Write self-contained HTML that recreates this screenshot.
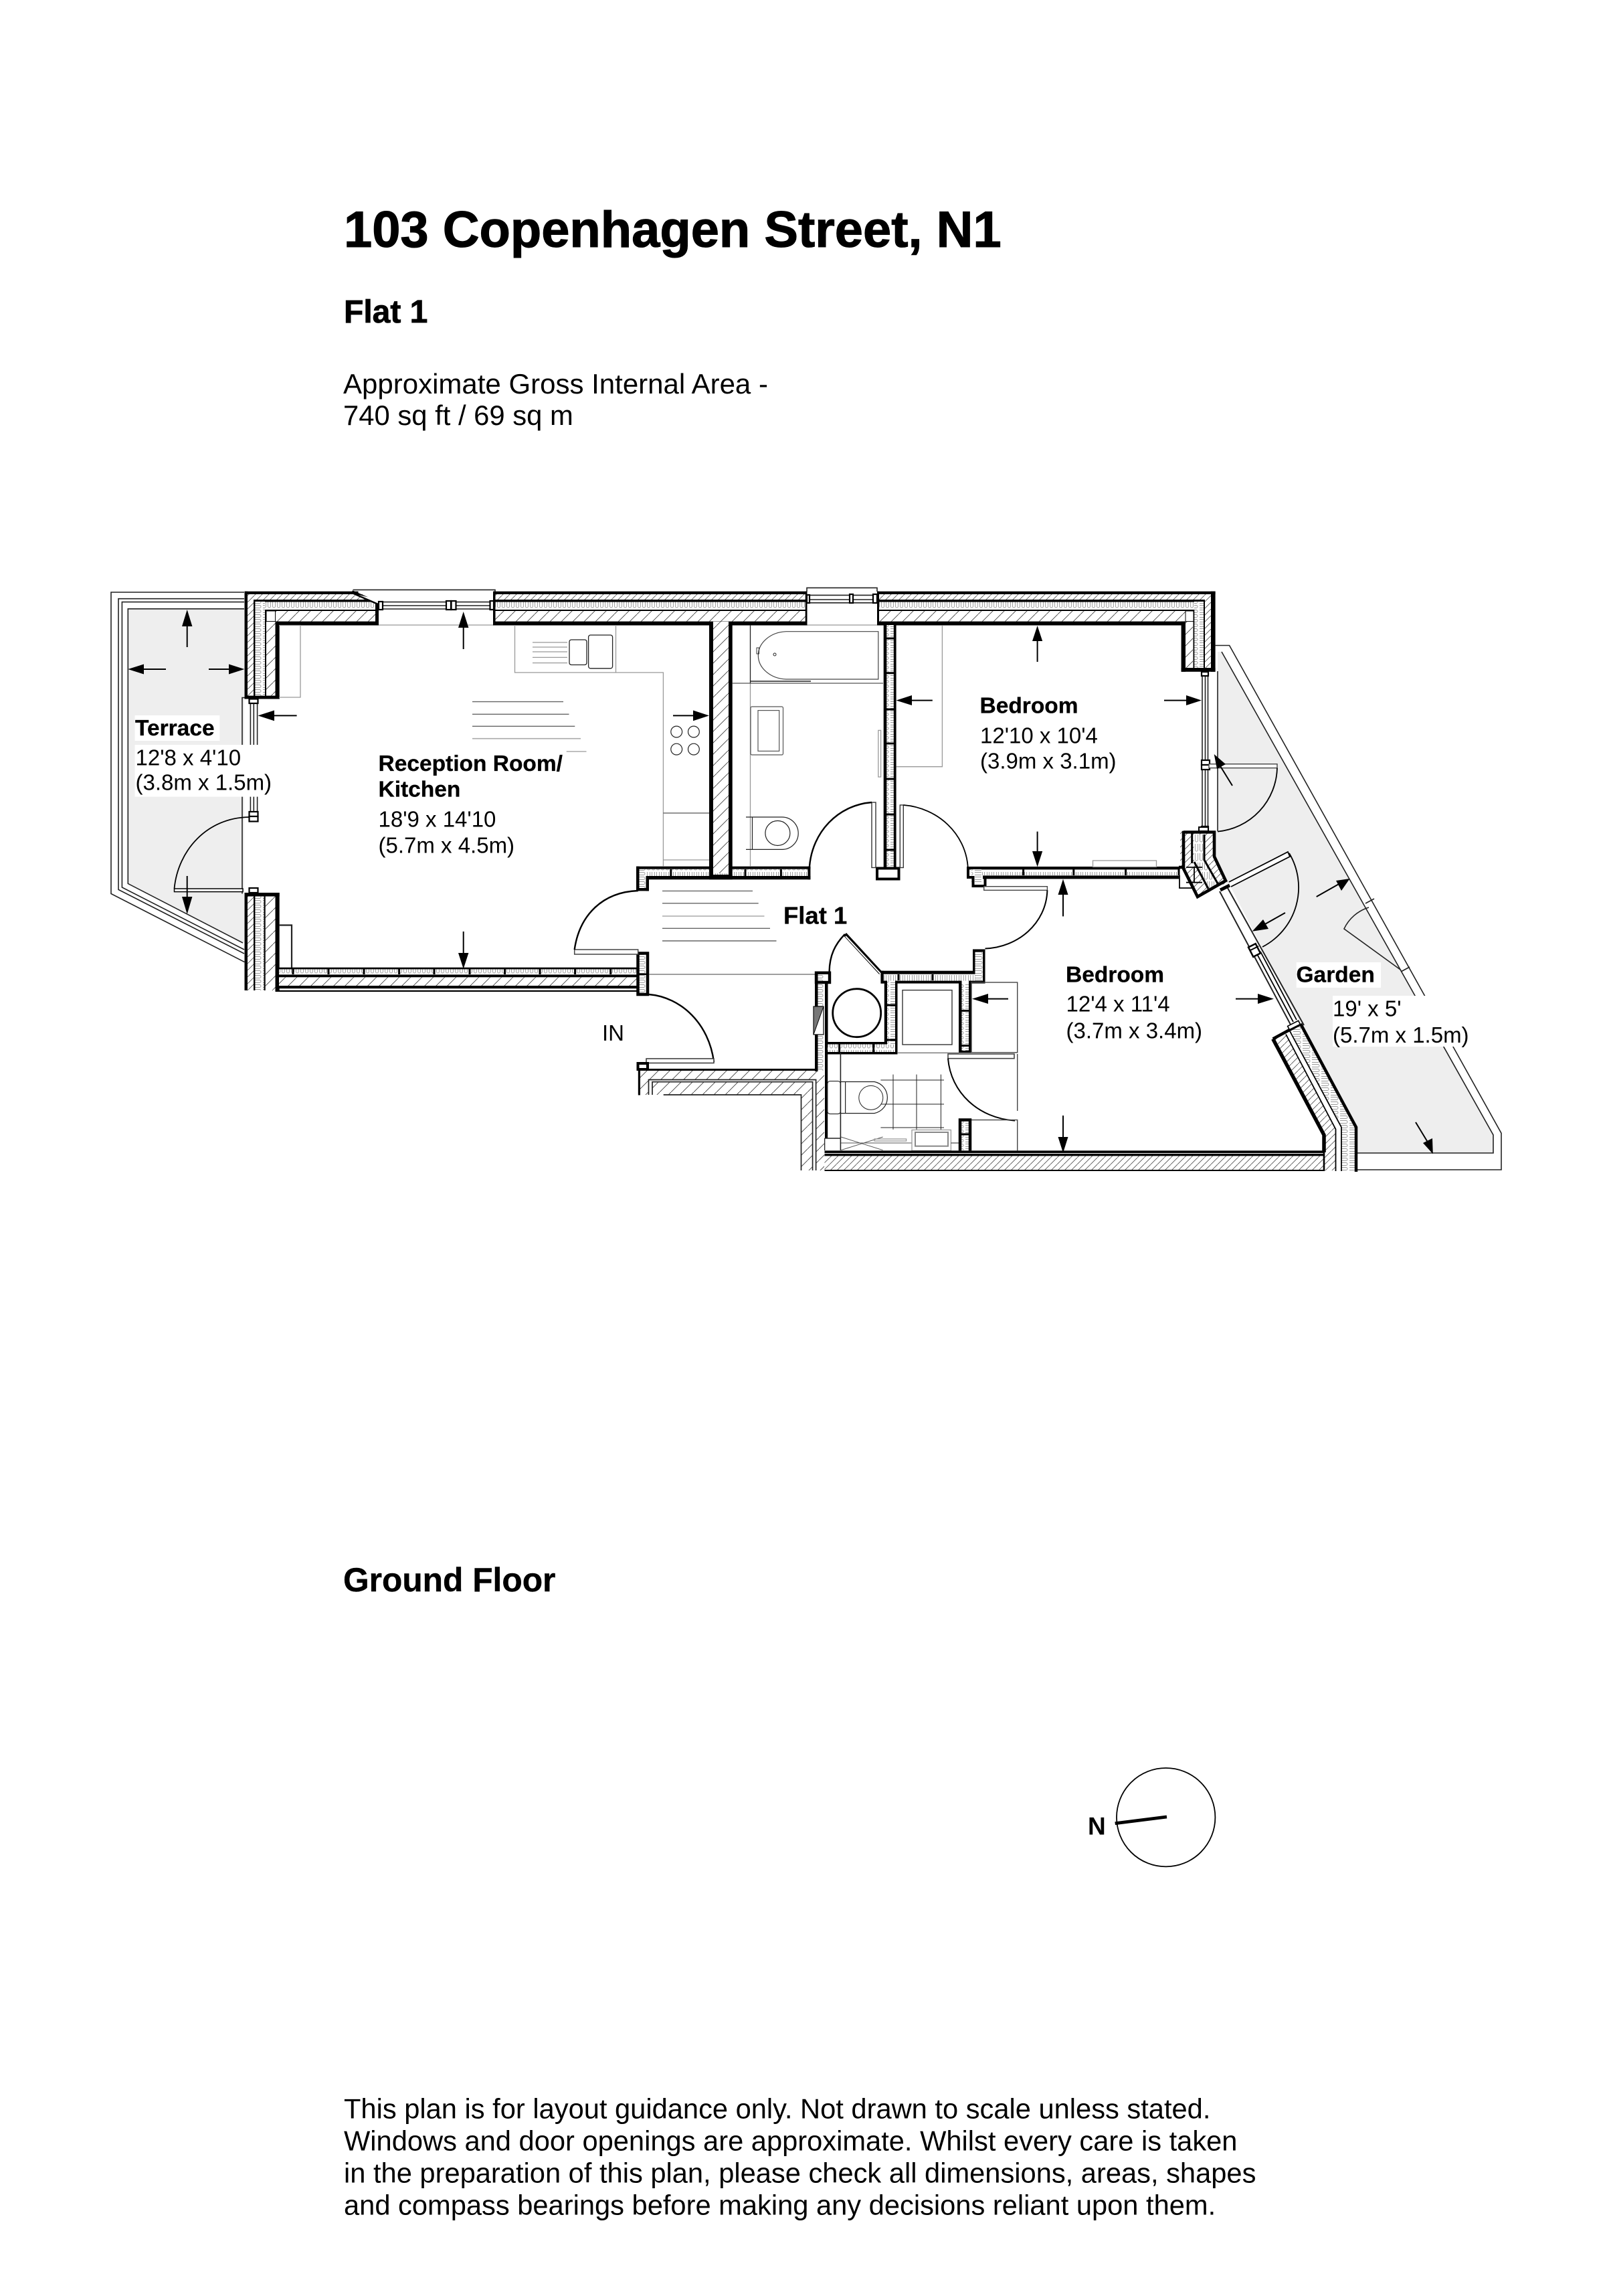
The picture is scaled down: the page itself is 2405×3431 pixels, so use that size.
<!DOCTYPE html>
<html><head><meta charset="utf-8"><title>103 Copenhagen Street, N1</title>
<style>
html,body{margin:0;padding:0;background:#fff}
svg{display:block}
text{font-family:"Liberation Sans",Arial,sans-serif;fill:#000}
.t{font-weight:bold;stroke:#000;stroke-width:1.1}
.b{font-weight:bold;font-size:33.5px;stroke:#000;stroke-width:.3}
.r{font-size:33px}
.k{fill:#000}
.hf{fill:url(#hf)}
.hc{fill:url(#hc)}
.iv{fill:url(#iv)}
.ih{fill:url(#ih)}
.l{fill:none;stroke:#222;stroke-width:1.6}
.g{fill:none;stroke:#999;stroke-width:1.3}
.m{fill:none;stroke:#000;stroke-width:2.4}
.w{fill:#fff;stroke:#000;stroke-width:2.2}
.a{fill:none;stroke:#000;stroke-width:2}
.h{fill:#000}
</style></head><body>
<svg xmlns="http://www.w3.org/2000/svg" width="2405" height="3431" viewBox="0 0 2405 3431">
<defs>
<pattern id="hf" patternUnits="userSpaceOnUse" width="10" height="10"><rect width="10" height="10" fill="#fff"/><path d="M-1 11L11 -1" stroke="#555" stroke-width=".9"/></pattern>
<pattern id="hc" patternUnits="userSpaceOnUse" width="17" height="17"><rect width="17" height="17" fill="#fff"/><path d="M-1 18L18 -1" stroke="#444" stroke-width=".9"/></pattern>
<pattern id="iv" patternUnits="userSpaceOnUse" width="14" height="7"><rect width="14" height="7" fill="#fff"/><path d="M1 1.500H10a2 2 0 0 1 0 4H1" fill="none" stroke="#999" stroke-width=".9"/></pattern>
<pattern id="ih" patternUnits="userSpaceOnUse" width="7" height="14"><rect width="7" height="14" fill="#fff"/><path d="M1.500 1V10a2 2 0 0 0 4 0V1" fill="none" stroke="#999" stroke-width=".9"/></pattern>
</defs>
<rect width="2405" height="3431" fill="#fff"/>

<!-- header -->
<text class="t" x="514" y="369" font-size="75.9">103 Copenhagen Street, N1</text>
<text class="t" x="514" y="482" font-size="48" style="stroke-width:.8">Flat 1</text>
<text x="513" y="588" font-size="42">Approximate Gross Internal Area -</text>
<text x="513" y="635" font-size="41.8">740 sq ft / 69 sq m</text>
<text font-weight="bold" x="513" y="2378" font-size="49.7" stroke="#000" stroke-width=".4">Ground Floor</text>

<!-- terrace -->
<path d="M191.3 909.8H365V1409L191.3 1320.4Z" fill="#eee"/>
<path class="l" d="M365 885H166V1335.5L365.4 1437.6M365 894.7H177V1329.4L365 1425M365 899.6H182.4V1326L365 1419M365 909.8H191.3V1320.4L363 1409"/>
<path class="l" d="M362 1335.5V1042.5H372"/>

<!-- garden -->
<path d="M1820 974H1826L2232 1696V1723H2027V1684L1944 1530L1839 1324L1832 1318L1814 1280V1242H1820Z" fill="#eee"/>
<path class="l" d="M1816.6 964.5H1837.6L2244 1693.3V1748H2027M1826 974L2232 1696V1723H2027"/>
<path class="l" d="M2046 1356A60 60 0 0 0 2009 1388L2094 1449.6M2041 1350L2054 1343M2094 1452L2107 1445"/>
<path class="l" d="M1820 1003V1242"/>

<!-- top wall: west -->
<rect class="hf" x="370" y="888" width="175" height="8"/>
<rect class="k" x="365.5" y="883.7" width="170" height="4.3"/>
<rect class="k" x="379" y="896" width="187" height="3.6"/>
<rect class="ih" x="396" y="899.6" width="170" height="11.4"/>
<rect class="k" x="394.5" y="911" width="171" height="2"/>
<rect class="hc" x="411.5" y="913" width="154" height="15.6"/>
<rect class="k" x="411.5" y="928.6" width="154.5" height="5.9"/>
<rect x="561" y="899" width="5" height="35.5" class="k"/>
<path d="M526 884.5L566 902" stroke="#000" stroke-width="5" fill="none"/>
<path d="M536 889L566 902V896Z" fill="#fff"/>
<path class="l" d="M527.5 881.4H740V884"/>
<!-- west pier upper -->
<rect class="hf" x="370" y="888" width="9" height="153"/>
<rect class="iv" x="381" y="899" width="15" height="141"/>
<rect class="hc" x="398" y="928" width="13.5" height="112"/>
<rect x="398" y="913" width="13.5" height="15.6" fill="#fff" stroke="#000" stroke-width="1"/>
<rect class="k" x="365.5" y="883.7" width="4.5" height="160.8"/>
<rect class="k" x="379" y="896" width="2.4" height="145"/>
<rect class="k" x="396" y="911" width="2" height="130"/>
<rect class="k" x="411.5" y="928.6" width="6.2" height="115.9"/>
<rect class="k" x="365.5" y="1039.6" width="52.2" height="4.9"/>
<path class="g" d="M417 934.5H449V1042H417"/>
<path class="g" d="M566 934H738M1206 934H1311"/>

<!-- windows -->
<path class="l" d="M572 899.6H733M572 905H733M572 910H733"/>
<rect class="w" x="566" y="899" width="6" height="12"/>
<rect class="w" x="667" y="898" width="7" height="13"/><rect class="w" x="674.5" y="898" width="7" height="13"/>
<rect class="w" x="732.5" y="898" width="5.5" height="13"/>
<path class="l" d="M1206 884V878.4H1311V884M1210 889.4H1306M1210 896H1306M1210 900.8H1306"/>
<rect class="w" x="1206" y="889" width="4" height="12"/><rect class="w" x="1270" y="888" width="5" height="13"/><rect class="w" x="1305" y="888" width="6" height="13"/>

<!-- top wall: centre -->
<rect class="hf" x="738" y="888" width="468" height="8"/>
<rect class="ih" x="738" y="899.6" width="468" height="11.4"/>
<rect class="hc" x="738" y="913" width="468" height="15.6"/>
<rect class="k" x="738" y="883.7" width="468" height="4.3"/>
<rect class="k" x="738" y="896" width="468" height="3.6"/>
<rect class="k" x="738" y="911" width="468" height="2"/>
<rect class="k" x="738" y="928.6" width="468" height="5.9"/>
<rect class="k" x="737" y="883.7" width="3.5" height="50.8"/>
<rect class="k" x="1203.7" y="883.7" width="2.8" height="50.8"/>

<!-- top wall: east -->
<rect class="hf" x="1311" y="888" width="500" height="8"/>
<rect class="ih" x="1311" y="899.6" width="489" height="11.4"/>
<rect class="hc" x="1311" y="913" width="461" height="15.6"/>
<rect class="k" x="1311" y="883.7" width="505.6" height="4.3"/>
<rect class="k" x="1311" y="896" width="489" height="3.6"/>
<rect class="k" x="1311" y="911" width="474" height="2"/>
<rect class="k" x="1311" y="928.6" width="461" height="5.9"/>
<rect class="k" x="1311" y="883.7" width="3" height="50.8"/>
<!-- east pier -->
<rect class="hc" x="1772" y="928" width="11" height="72"/>
<rect class="iv" x="1785" y="899" width="14" height="100"/>
<rect class="hf" x="1801" y="888" width="9" height="111"/>
<rect x="1772" y="913" width="12" height="15.6" fill="#fff" stroke="#000" stroke-width="1"/>
<rect class="k" x="1810" y="883.7" width="6.6" height="120.1"/>
<rect class="k" x="1799" y="896" width="2" height="103"/>
<rect class="k" x="1783.5" y="911" width="1.8" height="88"/>
<rect class="k" x="1765.6" y="928.6" width="6.4" height="75.2"/>
<rect class="k" x="1765.6" y="998" width="51" height="5.8"/>

<!-- east window -->
<path class="l" d="M1797 1004V1242M1801.5 1004V1242M1805.5 1004V1242"/>
<rect class="w" x="1796" y="1004" width="10" height="6"/>
<rect class="w" x="1796" y="1136" width="12" height="7"/><rect class="w" x="1796" y="1143" width="12" height="7"/>
<rect class="w" x="1796" y="1235" width="10" height="7"/>
<rect class="w" x="1807" y="1141.7" width="102" height="5.9" style="stroke:#444;stroke-width:1.4"/>
<path class="m" d="M1909 1147.6A98 98 0 0 1 1820 1242.6" style="stroke-width:1.8"/>

<!-- west window -->
<path class="l" d="M374.4 1044V1213M379.3 1044V1213M384.6 1044V1213"/>
<rect class="w" x="372.5" y="1044.5" width="13" height="6.5"/>
<rect class="w" x="372.5" y="1213" width="13" height="7"/><rect class="w" x="372.5" y="1220" width="13" height="7.5"/>
<rect class="w" x="372.5" y="1327" width="13" height="7"/>
<rect x="260.5" y="1328" width="102.5" height="4.6" class="w" style="stroke-width:1.5"/>
<path class="m" d="M260.5 1328C266 1270 310 1222 372 1221" style="stroke-width:1.8"/>

<!-- west pier lower -->
<rect class="hf" x="370" y="1339" width="9" height="141"/>
<rect class="iv" x="381" y="1339" width="13.5" height="141"/>
<rect class="hc" x="396.7" y="1339" width="15" height="141"/>
<rect class="k" x="365.5" y="1334" width="4.5" height="146"/>
<rect class="k" x="379" y="1334" width="2.4" height="146"/>
<rect class="k" x="394.5" y="1334" width="2.2" height="146"/>
<rect class="k" x="411.5" y="1334" width="6.2" height="148"/>
<rect class="k" x="365.5" y="1334" width="52.2" height="5.5"/>
<path class="l" d="M417.7 1382.5H436V1448" style="stroke-width:2.2"/>

<!-- south wall of reception -->
<rect class="ih" x="417" y="1448.4" width="535" height="8"/>
<rect class="hc" x="417" y="1460.3" width="535" height="12.7"/>
<rect class="k" x="417" y="1445.7" width="535" height="2.7"/>
<rect class="k" x="417" y="1456.4" width="535" height="3.9"/>
<rect class="k" x="412.7" y="1473" width="539" height="4.2"/>
<rect class="k" x="412.7" y="1479.8" width="539" height="2.2"/>
<path stroke="#000" stroke-width="3" d="M438 1448V1456M491 1448V1456M544 1448V1456M596.6 1448V1456M649 1448V1456M702 1448V1456M754.6 1448V1456M807 1448V1456M859.6 1448V1456M912.7 1448V1456"/>
<rect x="953.5" y="1424.5" width="14.5" height="61.5" fill="url(#iv)" stroke="#000" stroke-width="4.5"/>
<path stroke="#000" stroke-width="2.5" d="M952 1455.7H970"/>
<path class="g" d="M970 1456H1218" style="stroke:#666"/>

<!-- entrance -->
<rect x="858.7" y="1419" width="95" height="7" class="w" style="stroke:#444;stroke-width:1.5"/>
<path class="m" d="M858.7 1419C866 1368 900 1333 953.8 1331"/>
<path class="m" d="M970 1486C1018 1490 1060 1530 1067 1587"/>
<rect x="966" y="1582" width="101" height="6.5" class="w" style="stroke:#333;stroke-width:1.5"/>
<rect x="953.5" y="1589" width="14.5" height="9" fill="#fff" stroke="#000" stroke-width="4"/>

<!-- hall wall -->
<rect class="ih" x="956" y="1298.7" width="255" height="10.3"/>
<rect class="k" x="951" y="1294.7" width="260.4" height="4"/>
<rect class="k" x="965.5" y="1309" width="245.9" height="5.3"/>
<rect class="iv" x="955.5" y="1299" width="10" height="28"/>
<rect class="k" x="951" y="1294.7" width="4.5" height="36.7"/>
<rect class="k" x="965.5" y="1309" width="4.5" height="22.4"/>
<rect class="k" x="951" y="1327" width="19" height="4.4"/>
<path stroke="#000" stroke-width="3" d="M1002.8 1299V1309M1114 1299V1309M1167.4 1299V1309"/>
<rect class="k" x="1207.4" y="1294.7" width="4" height="19.6"/>
<!-- spine wall -->
<rect class="hc" x="1066" y="929" width="23" height="376"/>
<rect class="k" x="1060" y="929" width="6" height="385"/>
<rect class="k" x="1089" y="929" width="5.7" height="385"/>
<rect class="k" x="1060" y="1307" width="34.7" height="7.3"/>

<!-- bedroom/bath wall -->
<rect class="iv" x="1325.5" y="934" width="10.3" height="362"/>
<rect class="k" x="1320.7" y="934" width="4.6" height="362"/>
<rect class="k" x="1335.8" y="934" width="3.8" height="362"/>
<path stroke="#000" stroke-width="3" d="M1325 954H1336M1325 1005.7H1336M1325 1060H1336M1325 1111H1336M1325 1164H1336M1325 1217H1336M1325 1270H1336"/>
<rect x="1311" y="1297.5" width="32.5" height="16" fill="#fff" stroke="#000" stroke-width="4"/>
<rect x="1303" y="1199" width="6" height="97.5" class="w" style="stroke:#333;stroke-width:1.4"/>
<rect x="1345.3" y="1203" width="5" height="93.5" class="w" style="stroke:#333;stroke-width:1.4"/>
<path class="m" d="M1303 1199C1252 1203 1214 1244 1210 1294.7"/>
<path class="m" d="M1350.3 1203C1402 1207 1443 1246 1446.7 1295" style="stroke-width:1.8"/>

<!-- kitchen -->
<path class="g" d="M769.5 934V1005H991.4V1295M920.5 934V1005"/>
<path class="l" d="M991.4 1215H1060" style="stroke:#555;stroke-width:1.2"/>
<path class="g" d="M991.4 1285H1060"/>
<path class="g" d="M796 960H848M796 967H848M796 974H848M796 982.4H848M796 990.6H848"/>
<rect class="l" x="851" y="956" width="26" height="37.5" rx="3" style="stroke-width:1.3"/>
<rect class="l" x="879.6" y="949" width="36" height="49.8" rx="3" style="stroke-width:1.3"/>
<g class="l" style="stroke-width:1.2"><circle cx="1011.2" cy="1093.5" r="8.4"/><circle cx="1036.9" cy="1093.5" r="8.4"/><circle cx="1011.2" cy="1119.6" r="8.4"/><circle cx="1036.9" cy="1119.6" r="8.4"/></g>
<path d="M706 1048.6H842M706 1067.3H850.5M706 1085.3H859.3" stroke="#666" stroke-width="1.4" fill="none"/>
<path d="M706 1103.7H868M846.7 1123H876.5" stroke="#aaa" stroke-width="1.6" fill="none"/>
<path d="M990 1331.4H1125M990 1349.8H1133.7M990 1387.3H1151M990 1406H1160.5" stroke="#666" stroke-width="1.4" fill="none"/>
<path d="M990 1369H1142.5" stroke="#aaa" stroke-width="1.6" fill="none"/>

<!-- bathroom -->
<path class="g" d="M1121.5 934V1295"/>
<path class="l" d="M1094.7 1021H1320" style="stroke:#555;stroke-width:1.2"/>
<path class="l" d="M1121.5 934V1021" style="stroke-width:1.2"/>
<path class="l" d="M1312.8 943.7H1175A44 35.7 0 0 0 1175 1015H1312.8Z" style="stroke:#444;stroke-width:1.2"/>
<path d="M1122 1018H1212" stroke="#222" stroke-width="1.6"/>
<circle cx="1158" cy="978" r="2" class="l" style="stroke-width:1"/>
<rect class="l" x="1131" y="968" width="3.5" height="9" style="stroke-width:.9"/>
<rect class="l" x="1122" y="1056" width="48.5" height="72" rx="2" style="stroke:#555;stroke-width:1.2"/>
<rect class="l" x="1133" y="1061.6" width="31.7" height="60.8" style="stroke:#555;stroke-width:1.2"/>
<rect class="g" x="1312.8" y="1091.4" width="3.8" height="69.6"/>
<path class="l" d="M1115 1221H1169A24 24 0 0 1 1169 1269.4H1115M1124.5 1221V1269.4" style="stroke-width:1.2"/>
<circle cx="1162.4" cy="1245" r="18.5" class="l" style="stroke-width:1.2"/>
<path class="g" d="M1339.6 1145.7H1408.4V935"/>

<!-- utility cupboard -->
<rect class="iv" x="1222.5" y="1456" width="10.5" height="144"/>
<rect class="k" x="1218" y="1451.7" width="4.5" height="148.3"/>
<rect x="1220" y="1453.7" width="20" height="14.3" fill="none" stroke="#000" stroke-width="4.4"/>
<rect class="k" x="1233" y="1466" width="4.5" height="109.5"/>
<rect class="ih" x="1237" y="1560.5" width="101" height="11.5"/>
<rect class="k" x="1233" y="1557" width="93" height="3.5"/>
<rect class="k" x="1233" y="1572" width="108.5" height="3.5"/>
<path stroke="#000" stroke-width="3" d="M1254.6 1560V1572M1305.7 1560V1572"/>
<rect class="iv" x="1326" y="1455" width="12" height="106"/>
<rect class="ih" x="1321" y="1455.7" width="148" height="9.9"/>
<rect class="k" x="1321.8" y="1465.6" width="4.2" height="94.4"/>
<rect class="k" x="1338" y="1465.6" width="3.5" height="109.9"/>
<rect class="k" x="1317" y="1450.7" width="155.5" height="5"/>
<rect class="k" x="1316.4" y="1450.7" width="4.3" height="19"/>
<rect class="k" x="1317" y="1465.6" width="9" height="4"/>
<rect class="k" x="1338" y="1465.6" width="97" height="4"/>
<rect class="k" x="1448" y="1465.6" width="24.5" height="4"/>
<path stroke="#000" stroke-width="3" d="M1326 1502H1338M1326 1554H1338M1343 1456V1465M1394 1456V1465"/>
<rect class="iv" x="1437.5" y="1469" width="10.5" height="101"/>
<rect class="k" x="1433" y="1465.6" width="4.5" height="107.4"/>
<rect class="k" x="1448" y="1465.6" width="4" height="107.4"/>
<rect class="k" x="1433" y="1570" width="19" height="3.4"/>
<path stroke="#000" stroke-width="3" d="M1437 1510.4H1448M1437 1562.5H1448"/>
<rect class="iv" x="1457.5" y="1422.5" width="11.5" height="43"/>
<rect class="k" x="1454" y="1418.5" width="3.5" height="33"/>
<rect class="k" x="1469" y="1418.5" width="3.5" height="51"/>
<rect class="k" x="1454" y="1418.5" width="18.5" height="4"/>
<rect x="1216" y="1504" width="15" height="42" fill="#fff" stroke="#000" stroke-width="1.2"/>
<path d="M1216 1546V1504H1231Z" fill="#777" stroke="#000" stroke-width="1"/>
<circle cx="1280.7" cy="1513.7" r="36" fill="none" stroke="#000" stroke-width="2.8"/>
<path d="M1262.9 1396L1316.4 1454" stroke="#000" stroke-width="6" fill="none"/>
<path d="M1264 1399L1316 1455" stroke="#fff" stroke-width="2" fill="none"/>
<path class="m" d="M1262.9 1396C1248 1411 1240 1428 1239.6 1451.7"/>
<rect class="l" x="1349" y="1479.6" width="74" height="81.4" style="stroke:#333;stroke-width:1.4"/>
<path class="g" d="M1341 1573.4H1433" style="stroke:#666"/>
<rect class="l" x="1452" y="1468" width="68.7" height="104.8" style="stroke:#444;stroke-width:1.4"/>
<rect x="1417" y="1575" width="99" height="6.7" class="w" style="stroke:#444;stroke-width:1.6"/>
<path class="m" d="M1417 1581.7C1421 1632 1462 1671 1517 1674.6" style="stroke-width:2"/>
<path class="l" d="M1452 1673.6H1520.7V1719.4M1520.7 1575V1660" style="stroke:#444;stroke-width:1.4"/>
<rect class="iv" x="1437.5" y="1675" width="10.5" height="44"/>
<path d="M1435 1719.4V1673.5H1450V1719.4" fill="none" stroke="#000" stroke-width="4.5"/>
<path stroke="#000" stroke-width="3" d="M1437 1695H1448"/>

<!-- wc / bath 2 -->
<rect class="k" x="1233" y="1575" width="4.2" height="126"/>
<path class="l" d="M1232.5 1701H1256.4V1719M1256.4 1573V1719M1232.5 1701V1719"/>
<rect class="l" x="1236.8" y="1615.6" width="19.6" height="49" rx="4" style="stroke-width:1.1"/>
<path class="l" d="M1257 1616.5H1307A24 24 0 0 1 1307 1663.6H1257M1263.6 1616.5V1663.6" style="stroke-width:1.2"/>
<circle cx="1301.8" cy="1640.4" r="18" class="l" style="stroke-width:1"/>
<path class="l" d="M1335 1605.6V1687.9M1370 1605.6V1687.9M1406.4 1605.6V1687.9M1316.4 1614H1411M1316.4 1650H1411M1316.4 1685H1411" style="stroke-width:1"/>
<path class="l" d="M1257 1699L1319.6 1718.7M1319.6 1699L1257 1718.7M1257 1708H1363" style="stroke:#555;stroke-width:1"/>
<rect class="g" x="1307" y="1702" width="47.6" height="3"/>
<rect class="g" x="1363" y="1688.5" width="58.4" height="31"/>
<rect x="1368" y="1692" width="49" height="20.7" fill="none" stroke="#888" stroke-width="2"/>
<path class="l" d="M1421.4 1708H1433" style="stroke-width:1"/>

<!-- L wall near IN -->
<path class="hc" d="M957 1636V1600H1232V1749H1220V1613.5H969.5V1636Z"/>
<path class="hc" d="M975 1636V1617H1214.6V1749H1197.5V1636H991.7V1636Z"/>
<rect class="k" x="966" y="1597" width="256" height="3"/>
<rect class="k" x="953.8" y="1598" width="3.2" height="38.5"/>
<path class="l" d="M969.5 1636V1613.5H1219.6V1749M975 1636V1616.7H1214.6V1749M991.7 1636H1197.5V1749" style="stroke-width:1.7"/>
<rect class="k" x="1218" y="1590" width="4.5" height="11"/>

<!-- south wall of bedroom -->
<rect class="hf" x="1232.5" y="1727" width="746.5" height="21"/>
<rect class="k" x="1232.5" y="1719.4" width="746.5" height="3.6"/>
<rect class="k" x="1232.5" y="1724" width="746.5" height="3.4"/>
<rect class="k" x="1232.5" y="1748" width="746.5" height="2"/>

<!-- bedroom partition -->
<rect class="ih" x="1453" y="1301" width="310" height="7"/>
<rect class="k" x="1446.7" y="1295" width="317" height="4.4"/>
<rect class="k" x="1469" y="1308.4" width="293" height="5"/>
<rect class="iv" x="1452" y="1299" width="15" height="22"/>
<path d="M1447 1295V1311H1454.5V1324H1472.5V1309" fill="none" stroke="#000" stroke-width="4"/>
<path stroke="#000" stroke-width="3" d="M1529.6 1299V1308M1604.8 1299V1308M1682.6 1299V1308M1762 1299V1308"/>
<rect class="g" x="1633.5" y="1286" width="95" height="9.4"/>
<rect x="1470.7" y="1324.7" width="94.7" height="5.6" class="w" style="stroke:#444;stroke-width:1.4"/>
<path class="m" d="M1565.4 1330.3C1564 1380 1521 1416 1472.5 1417.5" style="stroke-width:2"/>

<!-- east corner -->
<path d="M1764 1241.7H1815V1280L1831.7 1315L1831.7 1320L1790 1341.7L1766.7 1295H1764Z" class="hf"/>
<path class="ih" d="M1784 1247H1800V1285L1821 1321L1806 1330L1785 1290Z"/>
<path d="M1762 1296H1769V1241.7M1769 1243.5H1815V1280L1832 1316L1790 1340L1768 1296" fill="none" stroke="#000" stroke-width="4.6"/>
<path stroke="#000" stroke-width="3" fill="none" d="M1781.7 1245V1290M1785 1288L1806 1328M1800 1247V1285L1821.7 1323"/>
<path stroke="#000" stroke-width="1.8" fill="none" d="M1773 1296H1797M1773 1318.7H1797M1785 1296V1318.7M1763 1308V1327H1782"/>
<rect x="1792" y="1236" width="14" height="6" fill="#fff" stroke="#000" stroke-width="2"/>

<!-- bay window -->
<path class="l" d="M1823 1332L1929 1531M1835 1327L1949 1532" style="stroke-width:2"/>
<path d="M1878 1424L1933 1527M1884 1422L1938 1524" stroke="#000" stroke-width="1.8" fill="none"/>
<rect x="-6" y="-8" width="12" height="16" transform="translate(1875 1420) rotate(-27)" fill="#fff" stroke="#000" stroke-width="2.5"/>
<path d="M1869 1420L1881 1414" stroke="#000" stroke-width="2"/>
<path d="M1824 1330L1838 1323" stroke="#000" stroke-width="5"/>
<path d="M1837 1318L1925 1273L1928 1280L1840 1325" fill="#fff" stroke="#000" stroke-width="1.8"/>
<path class="m" d="M1927 1275A100 100 0 0 1 1887 1415" style="stroke-width:1.8"/>

<!-- angled east wall -->
<path class="hf" d="M1903 1552L1922 1545L1996 1687V1749H1979V1696Z"/>
<path class="iv" d="M1928 1541L1944 1530L2027 1684V1750H2005V1684Z"/>
<path d="M1902.7 1552.5L1979 1696V1722" fill="none" stroke="#000" stroke-width="5.5"/>
<path d="M1944 1530L2027 1684.5V1751" fill="none" stroke="#000" stroke-width="4.5"/>
<path d="M1902.7 1552.5L1944 1530" fill="none" stroke="#000" stroke-width="4.5"/>
<path d="M1922 1545.5L1996.5 1687.5V1750M1928 1541L2005 1684.5V1750" fill="none" stroke="#000" stroke-width="1.8"/>
<path d="M1979 1696V1750" fill="none" stroke="#000" stroke-width="2.6"/>
<rect x="-9" y="-3" width="18" height="6" transform="translate(1934 1532) rotate(-27)" fill="#fff" stroke="#000" stroke-width="1.6"/>

<!-- arrows -->
<g class="a">
<path d="M279.7 930V967M207 1000H248M350 1000H312M279.7 1342V1309M402 1069.4H443.6M692.7 932V970M692.7 1430V1392M1044 1069.4H1006M1550.6 950V989M1354 1046.6H1393.8M1782 1046.6H1740M1550.6 1282V1242.6M1589 1330V1369.4M1470 1492.6H1507M1890 1492.6H1847M1589 1708V1667M1821 1140L1842 1174M2003 1320L1967.7 1340M1889 1382L1921 1364M2136 1710L2116 1677"/>
</g>
<g class="h">
<path d="M279.7 911L272 936H287.4Z"/>
<path d="M191.3 1000L215 992.5V1007.5Z"/>
<path d="M365.4 1000L342 992.5V1007.5Z"/>
<path d="M279.7 1366L272 1340H287.4Z"/>
<path d="M385.5 1069.4L410 1061.5V1077.3Z"/>
<path d="M692.7 914L685 938H700.4Z"/>
<path d="M692.7 1447.8L685 1424H700.4Z"/>
<path d="M1060 1069.4L1036 1061.5V1077.3Z"/>
<path d="M1550.6 935L1543 958H1558.2Z"/>
<path d="M1339.5 1046.6L1363 1039V1054Z"/>
<path d="M1796 1046.6L1773 1039V1054Z"/>
<path d="M1550.6 1295.4L1543 1272H1558.2Z"/>
<path d="M1589 1313.6L1581.5 1337H1596.5Z"/>
<path d="M1453 1492.6L1477 1485V1500Z"/>
<path d="M1904 1492.6L1880 1485V1500Z"/>
<path d="M1589 1722.7L1581.5 1699H1596.5Z"/>
<path d="M1814.7 1127L1819 1149L1832 1142Z"/>
<path d="M2017.5 1313L1997 1316L2005 1331Z"/>
<path d="M1871.7 1391.7L1888 1374L1896 1388Z"/>
<path d="M2141.8 1724.4L2127 1708L2141 1701Z"/>
</g>

<!-- label backgrounds -->
<rect x="201.6" y="1069" width="126.8" height="38" fill="#fff"/>
<rect x="201.6" y="1113" width="204.9" height="77.6" fill="#fff"/>
<rect x="1937.8" y="1438" width="126.2" height="38" fill="#fff"/>
<rect x="1992" y="1488" width="204" height="76" fill="#fff"/>

<!-- labels -->
<text class="b" x="202" y="1098.8">Terrace</text>
<text class="r" x="202.5" y="1143.7">12'8 x 4'10</text>
<text class="r" x="202.5" y="1180.4">(3.8m x 1.5m)</text>
<text class="b" x="565.5" y="1151.8">Reception Room/</text>
<text class="b" x="565.5" y="1190.6">Kitchen</text>
<text class="r" x="565.5" y="1235.5">18'9 x 14'10</text>
<text class="r" x="565.5" y="1274.3">(5.7m x 4.5m)</text>
<text font-weight="bold" x="1171" y="1380.4" font-size="36.5" stroke="#000" stroke-width=".3">Flat 1</text>
<text class="b" x="1464.5" y="1065.4">Bedroom</text>
<text class="r" x="1465" y="1110.6">12'10 x 10'4</text>
<text class="r" x="1465" y="1148.7">(3.9m x 3.1m)</text>
<text class="b" x="1593" y="1467.4">Bedroom</text>
<text class="r" x="1593.5" y="1511.4">12'4 x 11'4</text>
<text class="r" x="1593.5" y="1551.3">(3.7m x 3.4m)</text>
<text class="b" x="1937.5" y="1467.4">Garden</text>
<text class="r" x="1992" y="1518.5">19' x 5'</text>
<text class="r" x="1992" y="1558">(5.7m x 1.5m)</text>
<text class="r" x="900" y="1555">IN</text>

<!-- compass -->
<circle cx="1742.7" cy="2715.7" r="73.7" fill="none" stroke="#000" stroke-width="1.8"/>
<path d="M1744 2715L1666.7 2724.7" stroke="#000" stroke-width="4.8"/>
<text font-weight="bold" x="1626" y="2741.7" font-size="37">N</text>

<!-- footer -->
<text x="514" y="3165.4" font-size="41.65">This plan is for layout guidance only. Not drawn to scale unless stated.</text>
<text x="514" y="3213.4" font-size="41.65">Windows and door openings are approximate. Whilst every care is taken</text>
<text x="514" y="3261.4" font-size="41.65">in the preparation of this plan, please check all dimensions, areas, shapes</text>
<text x="514" y="3309.4" font-size="41.65">and compass bearings before making any decisions reliant upon them.</text>
</svg>
</body></html>
